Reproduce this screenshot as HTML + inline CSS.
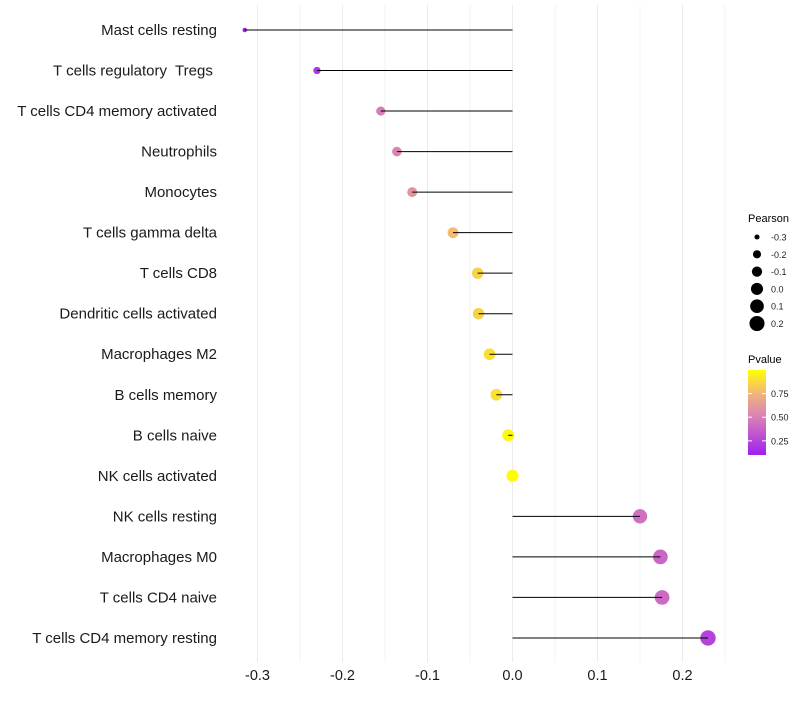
<!DOCTYPE html>
<html><head><meta charset="utf-8"><style>
body{margin:0;background:#fff;font-family:"Liberation Sans",sans-serif}
</style></head><body>
<svg id="chart" width="800" height="700"></svg>
<script>
const categories=["Mast cells resting","T cells regulatory  Tregs ","T cells CD4 memory activated","Neutrophils","Monocytes","T cells gamma delta","T cells CD8","Dendritic cells activated","Macrophages M2","B cells memory","B cells naive","NK cells activated","NK cells resting","Macrophages M0","T cells CD4 naive","T cells CD4 memory resting"];
const pearson=[-0.315,-0.23,-0.155,-0.136,-0.118,-0.07,-0.041,-0.04,-0.027,-0.019,-0.005,0.0,0.15,0.174,0.176,0.23];
const pvalue=[0.1,0.2,0.5,0.53,0.6,0.78,0.85,0.85,0.9,0.9,0.98,0.99,0.45,0.4,0.42,0.25];
const xTicks=[-0.3,-0.2,-0.1,0.0,0.1,0.2];
const xTickLabels=["-0.3","-0.2","-0.1","0.0","0.1","0.2"];
const sizeLegend=[-0.3,-0.2,-0.1,0.0,0.1,0.2];
const pLegend=[0.25,0.5,0.75];
const NS="http://www.w3.org/2000/svg";
const svg=document.getElementById('chart');
const x=v=>512.5+v*850;
const y=i=>30+i*40.53;
const r=v=>Math.sqrt(5+100*(v+0.315));
function lerp(a,b,t){return a.map((c,k)=>Math.round(c+(b[k]-c)*t));}
function col(p){
 const stops=[[0.1,[160,32,240]],[0.5,[215,125,185]],[0.75,[240,180,125]],[1.0,[255,255,0]]];
 if(p<=stops[0][0])return 'rgb('+stops[0][1]+')';
 for(let i=1;i<stops.length;i++){if(p<=stops[i][0]){const t=(p-stops[i-1][0])/(stops[i][0]-stops[i-1][0]);return 'rgb('+lerp(stops[i-1][1],stops[i][1],t)+')';}}
 return 'rgb(255,255,0)';
}
function mk(tag,attrs,parent){const e=document.createElementNS(NS,tag);for(const k in attrs)e.setAttribute(k,attrs[k]);(parent||svg).appendChild(e);return e;}
for(let v=-0.3;v<=0.251;v+=0.05){
 const g=mk('line',{x1:x(v),x2:x(v),y1:5,y2:662,stroke:'#ebebeb','stroke-width':Math.abs(Math.round(v*20))%2===0?1:0.6});
 
 
}
categories.forEach((c,i)=>{
 const t=mk('text',{x:217,y:y(i)+5,'text-anchor':'end','font-size':15,fill:'#1a1a1a'});
 t.setAttributeNS('http://www.w3.org/XML/1998/namespace','xml:space','preserve');
 t.style.whiteSpace='pre';
 t.textContent=c;
 
 
 const d=mk('circle',{cx:x(pearson[i]),cy:y(i),r:r(pearson[i]),fill:col(pvalue[i])});
 
 
 const l=mk('line',{x1:x(0),x2:x(pearson[i]),y1:y(i),y2:y(i),stroke:'#000','stroke-width':1});
 
 
});
xTicks.forEach((v,i)=>{
 const t=mk('text',{x:x(v),y:680,'text-anchor':'middle','font-size':14.5,fill:'#1a1a1a'});
 t.textContent=xTickLabels[i];
 
 
});
const lt=mk('text',{x:748,y:222,'font-size':11,fill:'#000'});lt.textContent='Pearson';


sizeLegend.forEach((v,i)=>{
 const cy=237+i*17.3;
 const c=mk('circle',{cx:757,cy:cy,r:r(v),fill:'#000'});
 
 
 const t=mk('text',{x:771,y:cy+3.5,'font-size':9,fill:'#222'});t.textContent=v.toFixed(1);
 
 
});
const pt=mk('text',{x:748,y:363,'font-size':11,fill:'#000'});pt.textContent='Pvalue';


const defs=mk('defs',{});
const gr=mk('linearGradient',{id:'pg',x1:0,y1:1,x2:0,y2:0},defs);
[[0,0.1],[0.43,0.5],[0.72,0.75],[1,1]].forEach(s=>mk('stop',{offset:s[0],'stop-color':col(s[1])},gr));
const bar=mk('rect',{x:748,y:370,width:18,height:85,fill:'url(#pg)'});


pLegend.forEach(p=>{
 const yy=370+(1-p)/0.9*85;
 mk('line',{x1:748,x2:752,y1:yy,y2:yy,stroke:'#fff'});mk('line',{x1:762,x2:766,y1:yy,y2:yy,stroke:'#fff'});
 const t=mk('text',{x:771,y:yy+3.5,'font-size':9,fill:'#222'});t.textContent=p.toFixed(2);
 
 
});
</script>
</body></html>
